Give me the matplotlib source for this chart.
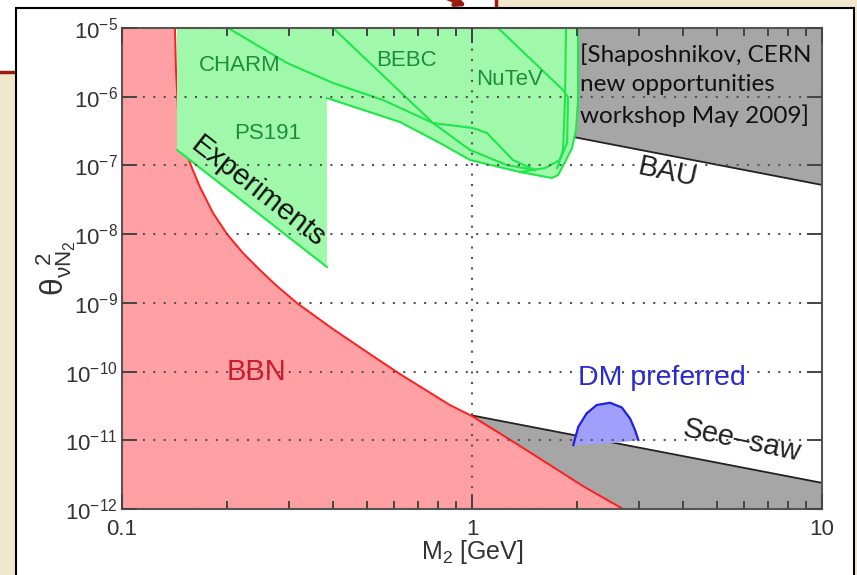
import numpy as np
import matplotlib
matplotlib.use("Agg")
import matplotlib.pyplot as plt
from matplotlib.patches import Rectangle, FancyArrowPatch
from matplotlib.ticker import LogLocator, NullLocator, FixedLocator, FixedFormatter

# --- data ---
# BBN boundary (red)
bbn_x = [0.14169, 0.14263, 0.14454, 0.14742, 0.15235, 0.15849, 0.167, 0.18197, 0.19953,
         0.22162, 0.24784, 0.27719, 0.31623, 0.40078, 0.50119, 0.62259, 0.86521, 1.0,
         1.3445, 1.6707, 2.0756, 2.7012]
bbn_y = [1e-5, 2.446e-6, 6.40e-7, 2.77e-7, 1.567e-7, 9.17e-8, 4.85e-8, 2.03e-8, 1.003e-8,
         5.31e-9, 3.00e-9, 1.755e-9, 9.93e-10, 4.155e-10, 1.922e-10, 9.20e-11, 3.253e-11,
         2.25e-11, 8.81e-12, 4.36e-12, 2.153e-12, 1e-12]

# experiments excluded region (green), outline
exp_x = [0.1436, 2.009, 2.009, 1.982, 1.931, 1.844, 1.761, 1.692, 1.371, 0.987, 0.810, 0.623, 0.385, 0.385, 0.1436]
exp_y = [1e-5, 1e-5, 8.95e-7, 3.27e-7, 1.79e-7, 1.12e-7, 7.24e-8, 6.56e-8, 8.02e-8, 1.20e-7, 2.12e-7, 4.28e-7, 9.57e-7, 3.32e-9, 1.68e-7]

# individual experiment curves
charm_x = [0.201, 0.296, 0.401, 0.557, 0.774, 1.007, 1.104, 1.309, 1.514]
charm_y = [1e-5, 3.10e-6, 1.58e-6, 8.95e-7, 4.14e-7, 3.50e-7, 2.96e-7, 1.20e-7, 8.57e-8]
bebc_x = [0.401, 0.774, 0.987, 1.259, 1.514]
bebc_y = [1e-5, 4.14e-7, 1.68e-7, 1.01e-7, 8.57e-8]
nutev_x = [1.187, 1.82, 1.88, 1.87, 1.784, 1.617, 1.371]
nutev_y = [1e-5, 1.25e-6, 9.9e-7, 2.12e-7, 1.20e-7, 9.16e-8, 8.02e-8]
inner_x = [1.856, 1.844, 1.82, 1.75]
inner_y = [1e-5, 8.95e-7, 1.68e-7, 9.16e-8]

# BAU and see-saw lines (gray regions)
bau_x = [1.8, 10.0]
bau_y = [2.8e-7, 5.2e-8]
seesaw_x = [1.0, 10.0]
seesaw_y = [2.3e-11, 2.4e-12]

# DM preferred blob
dm_x = [1.947, 2.012, 2.127, 2.272, 2.480, 2.678, 2.828, 2.923, 2.987, 2.591, 2.173]
dm_y = [8.51e-12, 1.57e-11, 2.47e-11, 3.26e-11, 3.52e-11, 3.01e-11, 2.08e-11, 1.41e-11, 1.01e-11, 9.2e-12, 8.8e-12]

x_ticks = [0.1, 1, 10]
x_tick_labels = ["0.1", "1", "10"]
y_ticks = [1e-12, 1e-11, 1e-10, 1e-9, 1e-8, 1e-7, 1e-6, 1e-5]
y_tick_labels = [r"$10^{-12}$", r"$10^{-11}$", r"$10^{-10}$", r"$10^{-9}$",
                 r"$10^{-8}$", r"$10^{-7}$", r"$10^{-6}$", r"$10^{-5}$"]

# --- style ---
plt.rcParams["font.family"] = ["Liberation Sans", "DejaVu Sans"]
plt.rcParams["mathtext.fontset"] = "custom"
plt.rcParams["mathtext.rm"] = "Liberation Sans"
plt.rcParams["mathtext.it"] = "Liberation Sans:italic"

W, H = 857, 575
fig = plt.figure(figsize=(W / 100, H / 100), dpi=100)
fig.patch.set_facecolor("#f1e8cc")


def fx(px):
    return px / W


def fy(py):
    return 1 - py / H


# slide decoration behind the panel
fig.add_artist(Rectangle((0, fy(72)), fx(496), 72 / H, transform=fig.transFigure,
                         facecolor="white", edgecolor="none", zorder=-10))
fig.add_artist(plt.Line2D([0, fx(20)], [fy(72), fy(72)], transform=fig.transFigure,
                          color="#9b1b12", lw=2.5, zorder=-9))
fig.add_artist(plt.Line2D([fx(496), fx(496)], [fy(0), fy(10)], transform=fig.transFigure,
                          color="#9b1b12", lw=2.5, zorder=-9))
# white panel
fig.add_artist(Rectangle((fx(16), fy(590)), fx(854 - 16), 582 / H, transform=fig.transFigure,
                         facecolor="white", edgecolor="black", lw=1.5, zorder=-8))
fig.add_artist(FancyArrowPatch((fx(432), fy(-8)), (fx(469), fy(7)), transform=fig.transFigure,
                               arrowstyle="-|>", mutation_scale=14, lw=3, color="#9b1b12",
                               zorder=-7, clip_on=False))

ax = fig.add_axes([fx(122), fy(509), fx(822 - 122), (509 - 28) / H])
ax.set_xscale("log")
ax.set_yscale("log")
ax.set_xlim(0.1, 10)
ax.set_ylim(1e-12, 1e-5)

green_fill = "#a0f9aa"
green_line = "#1fe64a"

# gray regions
ax.fill(bau_x + [10.0, 1.8], bau_y + [1e-5, 1e-5], color="#a6a6a6", lw=0, zorder=1)
ax.plot(bau_x, bau_y, color="#222222", lw=1.3, zorder=1.1)
ax.fill(seesaw_x + [10.0, 1.0], seesaw_y + [1e-12, 1e-12], color="#a6a6a6", lw=0, zorder=1)
ax.plot(seesaw_x, seesaw_y, color="#222222", lw=1.3, zorder=1.1)

# BBN
ax.fill([0.1] + bbn_x + [0.1], [1e-5] + bbn_y + [1e-12], color="#ffa1a4", lw=0, zorder=1.2)
ax.plot(bbn_x, bbn_y, color="#ff1e1e", lw=1.4, zorder=1.3)

# experiments
ax.fill(exp_x, exp_y, color=green_fill, lw=0, zorder=1.4)
ax.plot(exp_x[1:13], exp_y[1:13], color=green_line, lw=1.5, zorder=1.5)
ax.plot(exp_x[13:], exp_y[13:], color=green_line, lw=1.5, zorder=1.5)
for cx, cy in [(charm_x, charm_y), (bebc_x, bebc_y), (nutev_x, nutev_y), (inner_x, inner_y)]:
    ax.plot(cx, cy, color=green_line, lw=1.5, zorder=1.5)

# DM preferred
ax.fill(dm_x, dm_y, color="#a0a0fc", lw=0, zorder=1.6)
ax.plot(dm_x[:9], dm_y[:9], color="#2020e0", lw=1.6, zorder=1.7)

# grid + ticks
ax.set_axisbelow(False)
ax.grid(True, which="major", linestyle=(0, (1, 4)), color="#555555", lw=1.5)
ax.xaxis.set_major_locator(FixedLocator(x_ticks))
ax.xaxis.set_major_formatter(FixedFormatter(x_tick_labels))
ax.xaxis.set_minor_locator(LogLocator(base=10, subs=np.arange(2, 10)))
ax.yaxis.set_major_locator(FixedLocator(y_ticks))
ax.yaxis.set_major_formatter(FixedFormatter(y_tick_labels))
ax.yaxis.set_minor_locator(NullLocator())
ax.tick_params(which="both", direction="in", top=True, right=True, color="#444444",
               labelsize=16, labelcolor="#333333", width=1.4)
ax.tick_params(which="major", length=11, pad=7)
ax.tick_params(which="minor", length=6)
ax.tick_params(axis="y", pad=3)
for s in ax.spines.values():
    s.set_color("#555555")
    s.set_linewidth(1.5)

ax.set_xlabel(r"M$_2$ [GeV]", fontsize=18, color="#333333", labelpad=-1)
ax.set_ylabel(r"$\mathrm{\theta}_{\mathrm{\nu N}_2}^{\ \ 2}$", fontsize=23, color="#333333")
ax.yaxis.set_label_coords(-0.063, 0.5)

# labels
ax.text(0.2174, 2.8e-6, "CHARM", color="#1f8c3c", fontsize=16, ha="center", va="center", zorder=3)
ax.text(0.648, 3.42e-6, "BEBC", color="#1f8c3c", fontsize=16, ha="center", va="center", zorder=3)
ax.text(1.284, 1.81e-6, "NuTeV", color="#1f8c3c", fontsize=16, ha="center", va="center", zorder=3)
ax.text(0.2613, 2.96e-7, "PS191", color="#1f8c3c", fontsize=16, ha="center", va="center", zorder=3)
ax.text(0.2446, 4.1e-8, "Experiments", color="#111111", fontsize=21, ha="center", va="center",
        rotation=-38, rotation_mode="anchor", zorder=3)
ax.text(0.2415, 9.8e-11, "BBN", color="#c81d2e", fontsize=21, ha="center", va="center", zorder=3)
ax.text(3.63, 8.0e-8, "BAU", color="#222222", fontsize=21, ha="center", va="center",
        rotation=-12, rotation_mode="anchor", zorder=3)
ax.text(5.91, 9.8e-12, "See\u2013saw", color="#222222", fontsize=21, ha="center", va="center",
        rotation=-12, rotation_mode="anchor", zorder=3)
ax.text(3.49, 8.0e-11, "DM preferred", color="#2a2ad0", fontsize=20.5, ha="center", va="center", zorder=3)
ax.text(2.035, 1.48e-6, "[Shaposhnikov, CERN\nnew opportunities\nworkshop May 2009]",
        fontsize=17.5, family=["Lato", "DejaVu Sans"], color="#111111", ha="left", va="center",
        linespacing=1.5, zorder=3)

fig.savefig("out.png", dpi=100, facecolor=fig.get_facecolor())
